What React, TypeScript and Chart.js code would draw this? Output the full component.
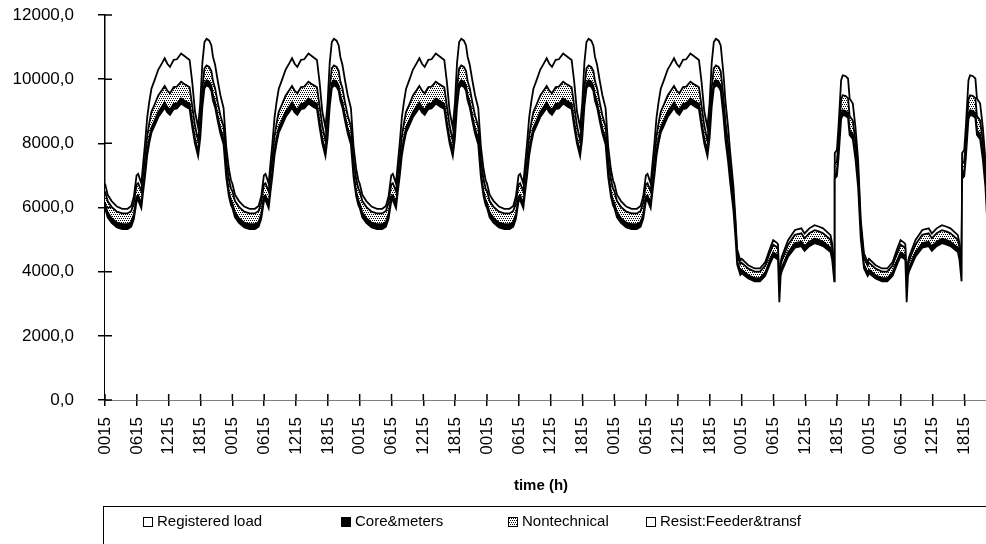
import React, { useEffect, useRef } from 'react';
import { Chart, registerables } from 'chart.js';

Chart.register(...registerables);

const seriesNames = ['Registered load', 'Core&meters', 'Nontechnical', 'Resist:Feeder&transf'];
const weekPlan = ['workday', 'workday', 'workday', 'workday', 'friday', 'weekend', 'weekend'];

const xTickHours = [0.25, 6.25, 12.25, 18.25];
const xTickLabels = ['0015', '0615', '1215', '1815'];
const yTickValues = [0, 2000, 4000, 6000, 8000, 10000, 12000];

// Monday–Friday, 00:15 – 20:18 (hour of day)
const workdayHours = [0.25, 0.75, 1.5, 2.5, 3.5, 4.5, 5.2, 5.7, 6.2, 6.5, 6.8, 7.1, 7.4, 7.8, 8.2, 8.6, 9.0, 9.6, 10.3, 11.0, 11.5, 12.0, 12.5, 13.2, 13.8, 14.6, 15.4, 16.2, 16.7, 17.2, 17.8, 18.2, 18.6, 19.0, 19.4, 19.9, 20.3];
const workdayRegistered = [5990, 5690, 5520, 5380, 5330, 5330, 5400, 5650, 6190, 6230, 6105, 5980, 6430, 6975, 7615, 8015, 8330, 8550, 8820, 8985, 9110, 8965, 8890, 9070, 9085, 9240, 9150, 9070, 8500, 8000, 7600, 8150, 9130, 9720, 9810, 9760, 9635];
const workdayCore = [150, 150, 150, 150, 150, 150, 150, 150, 150, 150, 150, 150, 150, 155, 155, 155, 160, 160, 160, 160, 160, 160, 160, 160, 160, 160, 160, 160, 160, 155, 150, 160, 160, 160, 160, 160, 160];
const workdayNontechnical = [370, 360, 350, 340, 335, 335, 340, 350, 380, 380, 375, 370, 390, 420, 450, 470, 490, 500, 510, 515, 520, 515, 510, 520, 520, 520, 520, 520, 490, 400, 330, 440, 450, 460, 460, 460, 455];
const workdayResist = [240, 200, 180, 160, 145, 145, 160, 200, 280, 290, 270, 250, 330, 450, 580, 660, 720, 760, 810, 840, 860, 840, 820, 850, 855, 880, 870, 850, 750, 445, 420, 500, 760, 820, 830, 820, 800];

// Monday–Thursday evening
const eveningHours = [20.6, 21.0, 21.5, 22.0, 22.6, 23.1, 23.6, 24.0];
const eveningRegistered = [9335, 9120, 8690, 8305, 7965, 6940, 6350, 6070];
const eveningCore = [160, 160, 155, 155, 155, 150, 150, 150];
const eveningNontechnical = [445, 440, 425, 410, 400, 390, 380, 370];
const eveningResist = [760, 730, 680, 630, 580, 420, 320, 260];

// Friday evening
const fridayEveningHours = [20.8, 21.2, 21.7, 22.1, 22.7, 23.1, 23.4, 24.0];
const fridayEveningRegistered = [8860, 8095, 7420, 6755, 5900, 5020, 4230, 3900];
const fridayEveningCore = [160, 155, 150, 145, 130, 120, 110, 110];
const fridayEveningNontechnical = [440, 410, 390, 370, 320, 270, 230, 220];
const fridayEveningResist = [740, 640, 540, 430, 300, 190, 130, 120];

// Saturday / Sunday
const weekendHours = [0.25, 1.5, 2.7, 3.7, 4.7, 5.6, 6.2, 6.9, 7.1, 7.35, 7.6, 7.8, 9.0, 10.3, 11.5, 12.1, 13.0, 14.0, 14.9, 15.6, 17.0, 17.3, 17.7, 17.8, 18.2, 18.5, 19.0, 19.3, 19.8, 20.3, 20.6, 21.2, 21.7, 22.2, 22.7, 23.3, 24.0];
const weekendRegistered = [3950, 3785, 3700, 3700, 3870, 4250, 4470, 4400, 4360, 3050, 3870, 4010, 4470, 4750, 4795, 4650, 4795, 4890, 4845, 4795, 4610, 4380, 3700, 6900, 6980, 7540, 8760, 8880, 8860, 8795, 8260, 8130, 7505, 6630, 5020, 4105, 3865];
const weekendCore = [110, 105, 100, 100, 105, 120, 130, 125, 125, 80, 105, 110, 130, 140, 140, 135, 140, 140, 140, 140, 135, 125, 90, 130, 130, 140, 150, 150, 150, 150, 150, 150, 145, 140, 130, 115, 105];
const weekendNontechnical = [220, 205, 200, 200, 215, 230, 240, 240, 235, 120, 215, 220, 240, 260, 260, 255, 260, 265, 262, 260, 250, 240, 170, 330, 330, 380, 460, 470, 470, 465, 440, 430, 400, 360, 280, 225, 215];
const weekendResist = [120, 105, 100, 100, 110, 130, 140, 135, 130, 70, 110, 120, 140, 150, 155, 150, 155, 155, 153, 155, 145, 135, 90, 340, 350, 450, 600, 620, 620, 610, 550, 530, 450, 350, 180, 125, 115];

type Profile = { hours: number[]; values: number[][] };

const profiles: Record<string, Profile[]> = {
  workday: [
    { hours: workdayHours, values: [workdayRegistered, workdayCore, workdayNontechnical, workdayResist] },
    { hours: eveningHours, values: [eveningRegistered, eveningCore, eveningNontechnical, eveningResist] },
  ],
  friday: [
    { hours: workdayHours, values: [workdayRegistered, workdayCore, workdayNontechnical, workdayResist] },
    { hours: fridayEveningHours, values: [fridayEveningRegistered, fridayEveningCore, fridayEveningNontechnical, fridayEveningResist] },
  ],
  weekend: [
    { hours: weekendHours, values: [weekendRegistered, weekendCore, weekendNontechnical, weekendResist] },
  ],
};

function buildSeries(): { x: number; y: number }[][] {
  const out: { x: number; y: number }[][] = [[], [], [], []];
  weekPlan.forEach((kind, day) => {
    profiles[kind].forEach((p) => {
      p.hours.forEach((h, i) => {
        for (let s = 0; s < 4; s++) out[s].push({ x: day * 24 + h, y: p.values[s][i] });
      });
    });
  });
  return out;
}

const FONT = '"Liberation Sans", Arial, sans-serif';

export default function App() {
  const ref = useRef<HTMLCanvasElement | null>(null);

  useEffect(() => {
    const canvas = ref.current;
    if (!canvas) return;
    const ctx = canvas.getContext('2d')!;

    const pc = document.createElement('canvas');
    pc.width = 4;
    pc.height = 4;
    const g = pc.getContext('2d')!;
    g.fillStyle = '#ffffff';
    g.fillRect(0, 0, 4, 4);
    g.fillStyle = '#000000';
    [[0, 0], [2, 0], [1, 2], [3, 2]].forEach(([a, b]) => g.fillRect(a, b, 1, 1));
    const pattern = ctx.createPattern(pc, 'repeat')!;

    const series = buildSeries();
    const fills = ['#ffffff', '#000000', pattern, '#ffffff'];
    const tickValues: number[] = [];
    for (let d = 0; d < 7; d++) xTickHours.forEach((h) => tickValues.push(d * 24 + h));

    const extras = {
      id: 'extras',
      afterDraw(chart: any) {
        const c = chart.ctx;
        const area = chart.chartArea;
        const xs = chart.scales.x;
        const ys = chart.scales.y;
        c.save();
        c.strokeStyle = '#000';
        c.lineWidth = 1.5;
        c.beginPath();
        tickValues.forEach((v) => {
          const px = xs.getPixelForValue(v);
          c.moveTo(px, area.bottom);
          c.lineTo(px, area.bottom - 6);
        });
        yTickValues.forEach((v) => {
          const py = ys.getPixelForValue(v);
          c.moveTo(area.left, py);
          c.lineTo(area.left + 7, py);
        });
        c.stroke();

        // axis title
        c.fillStyle = '#000';
        c.font = `bold 15px ${FONT}`;
        c.textAlign = 'center';
        c.textBaseline = 'middle';
        c.fillText('time (h)', 541, 486);

        // legend box
        c.lineWidth = 1;
        c.strokeRect(103.5, 506.5, 1000, 100);
        const itemX = [143, 341, 508, 646];
        c.font = `15px ${FONT}`;
        c.textAlign = 'left';
        seriesNames.forEach((name, i) => {
          const bx = itemX[i];
          const by = 517;
          c.fillStyle = fills[i] as any;
          c.fillRect(bx, by, 9, 9);
          c.strokeStyle = '#000';
          c.lineWidth = 1;
          c.strokeRect(bx + 0.5, by + 0.5, 9, 9);
          c.fillStyle = '#000';
          c.fillText(name, bx + 14, 522);
        });
        c.restore();
      },
    };

    const chart = new Chart(canvas, {
      type: 'line',
      data: {
        datasets: seriesNames.map((name, i) => ({
          label: name,
          data: series[i],
          fill: i === 0 ? 'origin' : '-1',
          backgroundColor: fills[i] as any,
          borderColor: '#000000',
          borderWidth: 1.8,
          pointRadius: 0,
          tension: 0,
        })),
      },
      options: {
        animation: false,
        responsive: false,
        maintainAspectRatio: false,
        layout: { autoPadding: false, padding: { top: 15, right: 15, left: 0, bottom: 0 } },
        plugins: { legend: { display: false }, tooltip: { enabled: false } },
        scales: {
          x: {
            type: 'linear',
            min: 0.25,
            max: 168,
            afterBuildTicks: (axis: any) => {
              axis.ticks = tickValues.map((v) => ({ value: v }));
            },
            afterFit: (axis: any) => {
              axis.height = 170;
              axis.paddingLeft = 0;
              axis.paddingRight = 0;
            },
            ticks: {
              autoSkip: false,
              maxRotation: 90,
              minRotation: 90,
              padding: 11,
              color: '#000',
              font: { family: FONT, size: 17 },
              callback: (_v: any, index: number) => xTickLabels[index % xTickLabels.length],
            },
            grid: { display: true, drawOnChartArea: false, drawTicks: true, tickLength: 6, color: '#000', lineWidth: 1.5 },
            border: { display: true, color: '#000', width: 1.5 },
          },
          y: {
            stacked: true,
            min: 0,
            max: 12000,
            afterBuildTicks: (axis: any) => {
              axis.ticks = yTickValues.map((v) => ({ value: v }));
            },
            afterFit: (axis: any) => {
              axis.width = 105;
              axis.paddingTop = 0;
              axis.paddingBottom = 0;
            },
            ticks: {
              padding: 24,
              color: '#000',
              font: { family: FONT, size: 17 },
              callback: (v: any) => Number(v).toFixed(1).replace('.', ','),
            },
            grid: { display: true, drawOnChartArea: false, drawTicks: true, tickLength: 7, color: '#000', lineWidth: 1.5 },
            border: { display: true, color: '#000', width: 1.5 },
          },
        },
      },
      plugins: [extras],
    });

    return () => chart.destroy();
  }, []);

  return (
    <div style={{ position: 'fixed', left: 0, top: 0, width: 986, height: 544, overflow: 'hidden', background: '#fff' }}>
      <canvas ref={ref} width={1010} height={570} style={{ display: 'block' }} />
    </div>
  );
}
